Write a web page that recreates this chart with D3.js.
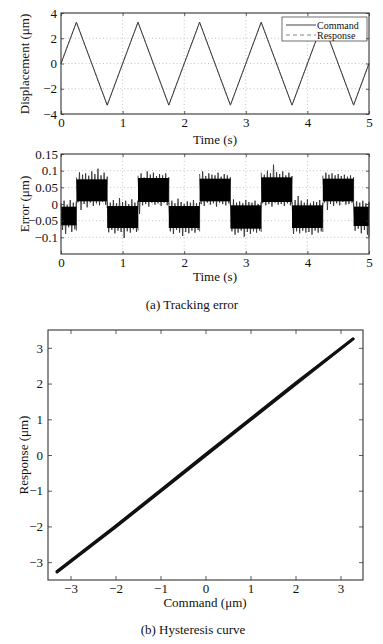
<!DOCTYPE html>
<html>
<head>
  <title>Tracking error and hysteresis</title>
  <script src="https://d3js.org/d3.v7.min.js"></script>
  <style>
    body { margin: 0; background: #fff; }
    text { font-family: "Liberation Serif", "Times New Roman", serif; fill: #111; }
  </style>
</head>
<body>
  <div id="chart"></div>
  <script>
// --- data ---
// triangle command / response vertices (time in s, displacement in um)
const cmdTime = [0, 0.25, 0.75, 1.25, 1.75, 2.25, 2.75, 3.25, 3.75, 4.25, 4.75, 5];
const cmdValue = [0, 3.27, -3.3, 3.27, -3.3, 3.27, -3.3, 3.27, -3.3, 3.27, -3.3, 0];
const respValue = [0, 3.25, -3.28, 3.25, -3.28, 3.25, -3.28, 3.25, -3.28, 3.25, -3.28, 0];

// tracking error, one block per half period: spike tips + dense core
const errSegStart = [0, 0.25, 0.75, 1.25, 1.75, 2.25, 2.75, 3.25, 3.75, 4.25, 4.75];
const errSegEnd = [0.25, 0.75, 1.25, 1.75, 2.25, 2.75, 3.25, 3.75, 4.25, 4.75, 5];
const errCoreTop = [-0.008, 0.074, -0.006, 0.078, -0.006, 0.076, -0.004, 0.08, -0.004, 0.076, -0.008];
const errCoreBot = [-0.064, 0.008, -0.072, 0.006, -0.072, 0.008, -0.074, 0.006, -0.072, 0.008, -0.066];
const errUpper = [
  [0.002, 0.010, -0.002, 0.012, 0.004, 0.008],
  [0.080, 0.095, 0.088, 0.092, 0.085, 0.098, 0.090, 0.106, 0.086, 0.094, 0.082],
  [0.008, 0.004, 0.012, 0.002, 0.018, 0.006, 0.010, 0.000, 0.014, 0.004, 0.010],
  [0.085, 0.092, 0.080, 0.098, 0.088, 0.094, 0.084, 0.090, 0.086, 0.092, 0.080],
  [0.004, 0.010, 0.002, 0.016, 0.006, 0.000, 0.008, 0.004, 0.012, 0.002, 0.006],
  [0.090, 0.098, 0.084, 0.092, 0.088, 0.086, 0.094, 0.082, 0.090, 0.086, 0.080],
  [0.010, 0.014, 0.004, 0.008, 0.002, 0.012, 0.006, 0.004, 0.010, 0.000, 0.006],
  [0.094, 0.088, 0.100, 0.092, 0.118, 0.096, 0.090, 0.098, 0.086, 0.094, 0.084],
  [0.006, 0.012, 0.024, 0.010, 0.004, 0.014, 0.002, 0.008, 0.006, 0.012, 0.004],
  [0.085, 0.094, 0.088, 0.092, 0.086, 0.090, 0.084, 0.088, 0.082, 0.086, 0.080],
  [0.002, 0.008, 0.004, 0.010, 0.002, 0.006]
];
const errLower = [
  [-0.078, -0.090, -0.070, -0.084, -0.076, -0.080],
  [0.005, -0.018, 0.000, -0.010, 0.004, -0.006, 0.002, -0.004, 0.006, -0.002, -0.012],
  [-0.085, -0.078, -0.088, -0.080, -0.084, -0.102, -0.082, -0.086, -0.076, -0.084, -0.080],
  [-0.030, -0.004, 0.000, -0.008, 0.004, -0.002, 0.002, -0.006, 0.004, -0.004, 0.000],
  [-0.082, -0.090, -0.078, -0.086, -0.096, -0.084, -0.088, -0.080, -0.086, -0.078, -0.082],
  [0.000, -0.006, 0.004, -0.002, 0.002, -0.008, 0.004, 0.000, -0.004, 0.002, -0.006],
  [-0.082, -0.092, -0.086, -0.080, -0.098, -0.084, -0.090, -0.082, -0.086, -0.080, -0.084],
  [0.002, -0.004, 0.000, -0.008, 0.004, -0.002, 0.000, -0.006, 0.002, -0.004, 0.000],
  [-0.090, -0.082, -0.088, -0.080, -0.086, -0.084, -0.092, -0.080, -0.086, -0.082, -0.084],
  [0.004, -0.018, 0.000, -0.006, 0.002, -0.004, 0.006, -0.002, 0.000, 0.004, -0.008],
  [-0.080, -0.074, -0.088, -0.078, -0.092, -0.100]
];

// hysteresis loop (command vs response, um)
const hystCmdUp = [-3.3, -2, -1, 0, 1, 2, 3.28];
const hystRespUp = [-3.28, -2.02, -1.02, -0.02, 0.98, 1.98, 3.25];
const hystCmdDown = [3.28, 2, 1, 0, -1, -2, -3.3];
const hystRespDown = [3.25, 2.01, 1.01, 0.02, -0.99, -1.99, -3.26];

// ticks
const timeTicks = [0, 1, 2, 3, 4, 5];
const dispTicks = [-4, -2, 0, 2, 4];
const errTicks = [0.15, 0.1, 0.05, 0, -0.05, -0.1];
const errTickLabels = ["0.15", "0.1", "0.05", "0", "\u22120.05", "\u22120.1"];
const hystTicks = [-3, -2, -1, 0, 1, 2, 3];

const width = 383, height = 644;
const svg = d3.select("#chart").append("svg")
  .attr("width", width)
  .attr("height", height);

const fmt = d => d < 0 ? "\u2212" + Math.abs(d) : String(d);

// dotted grid inside the plot box
function drawGrid(x, y, xTicks, yTicks) {
  const [x0, x1] = x.range();
  const [y0, y1] = y.range(); // y0 bottom, y1 top
  const g = svg.append("g");
  g.selectAll(".gx").data(xTicks.filter(t => x(t) > x0 + 1 && x(t) < x1 - 1)).enter()
    .append("line")
    .attr("x1", d => x(d)).attr("x2", d => x(d))
    .attr("y1", y1).attr("y2", y0)
    .attr("stroke", "#b5b5b5").attr("stroke-width", 0.8)
    .attr("stroke-dasharray", "1,2.5");
  g.selectAll(".gy").data(yTicks.filter(t => y(t) < y0 - 1 && y(t) > y1 + 1)).enter()
    .append("line")
    .attr("y1", d => y(d)).attr("y2", d => y(d))
    .attr("x1", x0).attr("x2", x1)
    .attr("stroke", "#b5b5b5").attr("stroke-width", 0.8)
    .attr("stroke-dasharray", "1,2.5");
}

// box with inward ticks on all four sides
function drawAxes(x, y, xTicks, yTicks, opts) {
  const [x0, x1] = x.range();
  const [y0, y1] = y.range();
  const ts = opts.tick;
  const bottom = svg.append("g").attr("transform", `translate(0,${y0})`)
    .call(d3.axisBottom(x).tickValues(xTicks).tickSize(-ts).tickPadding(opts.xPad).tickFormat(opts.xFmt || fmt));
  const top = svg.append("g").attr("transform", `translate(0,${y1})`)
    .call(d3.axisTop(x).tickValues(xTicks).tickSize(-ts).tickFormat(""));
  const left = svg.append("g").attr("transform", `translate(${x0},0)`)
    .call(d3.axisLeft(y).tickValues(yTicks).tickSize(-ts).tickPadding(opts.yPad).tickFormat(opts.yFmt || fmt));
  const right = svg.append("g").attr("transform", `translate(${x1},0)`)
    .call(d3.axisRight(y).tickValues(yTicks).tickSize(-ts).tickFormat(""));
  [bottom, top, left, right].forEach(a => {
    a.attr("font-family", null);
    a.selectAll(".domain").remove();
    a.selectAll("line").attr("stroke", "#333").attr("stroke-width", 0.8);
    a.selectAll("text").style("font-family", "'Liberation Serif', serif")
      .style("font-size", "13px").attr("fill", "#111");
  });
  svg.append("rect")
    .attr("x", x0).attr("y", y1)
    .attr("width", x1 - x0).attr("height", y0 - y1)
    .attr("fill", "none").attr("stroke", "#333").attr("stroke-width", 1.1);
}

// --- (a) top: displacement ---
const xT = d3.scaleLinear().domain([0, 5]).range([61, 369]);
const yD = d3.scaleLinear().domain([-4, 4]).range([114, 13]);
drawGrid(xT, yD, timeTicks, dispTicks);

const cmdLine = d3.line().x((d, i) => xT(cmdTime[i])).y(d => yD(d));
svg.append("path").datum(cmdValue)
  .attr("d", cmdLine).attr("fill", "none")
  .attr("stroke", "#111").attr("stroke-width", 0.9);
svg.append("path").datum(respValue)
  .attr("d", cmdLine).attr("fill", "none")
  .attr("stroke", "#666").attr("stroke-width", 0.7)
  .attr("stroke-dasharray", "4,3");

// legend
const lg = svg.append("g");
lg.append("rect").attr("x", 282).attr("y", 17).attr("width", 85).attr("height", 24)
  .attr("fill", "#fff").attr("stroke", "#333").attr("stroke-width", 0.7);
lg.append("line").attr("x1", 286).attr("x2", 316).attr("y1", 25).attr("y2", 25)
  .attr("stroke", "#111").attr("stroke-width", 0.8);
lg.append("line").attr("x1", 286).attr("x2", 316).attr("y1", 35).attr("y2", 35)
  .attr("stroke", "#666").attr("stroke-width", 0.8).attr("stroke-dasharray", "4,3");
lg.append("text").attr("x", 317).attr("y", 28.5).style("font-size", "10px").text("Command");
lg.append("text").attr("x", 317).attr("y", 38.5).style("font-size", "10px").text("Response");

drawAxes(xT, yD, timeTicks, dispTicks, { tick: 3, xPad: 4, yPad: 4 });

svg.append("text").attr("x", 215).attr("y", 144).attr("text-anchor", "middle")
  .style("font-size", "13px").text("Time (s)");
svg.append("text").attr("transform", "translate(29,64) rotate(-90)")
  .attr("text-anchor", "middle").style("font-size", "13px").text("Displacement (\u03bcm)");

// --- (a) bottom: error ---
const yE = d3.scaleLinear().domain([-0.15, 0.15]).range([254, 154]);
drawGrid(xT, yE, timeTicks, errTicks);

errSegStart.forEach((s, k) => {
  const e = errSegEnd[k];
  const up = errUpper[k], lo = errLower[k];
  const n = up.length - 1;
  const step = (e - s) / n;
  // noisy trace swinging between the read spike tips, dense core over it
  const pts = [];
  up.forEach((u, i) => {
    pts.push([s + step * i, u]);
    pts.push([s + step * Math.min(i + 0.5, n), lo[i]]);
  });
  svg.append("path").datum(pts)
    .attr("d", d3.line().x(d => xT(d[0])).y(d => yE(d[1])))
    .attr("fill", "none").attr("stroke", "#2a2a2a").attr("stroke-width", 0.8);
  svg.append("rect")
    .attr("x", xT(s)).attr("width", xT(e) - xT(s))
    .attr("y", yE(errCoreTop[k])).attr("height", yE(errCoreBot[k]) - yE(errCoreTop[k]))
    .attr("fill", "#000");
});

drawAxes(xT, yE, timeTicks, errTicks, {
  tick: 3, xPad: 4, yPad: 3,
  yFmt: d => errTickLabels[errTicks.indexOf(d)]
});

svg.append("text").attr("x", 215).attr("y", 281).attr("text-anchor", "middle")
  .style("font-size", "13px").text("Time (s)");
svg.append("text").attr("transform", "translate(29,204) rotate(-90)")
  .attr("text-anchor", "middle").style("font-size", "13px").text("Error (\u03bcm)");
svg.append("text").attr("x", 192).attr("y", 309).attr("text-anchor", "middle")
  .style("font-size", "13px").text("(a) Tracking error");

// --- (b) hysteresis ---
const xH = d3.scaleLinear().domain([-3.5, 3.5]).range([48, 363]);
const yH = d3.scaleLinear().domain([-3.5, 3.5]).range([580, 330]);

const upLine = d3.line().x((d, i) => xH(hystCmdUp[i])).y(d => yH(d));
const downLine = d3.line().x((d, i) => xH(hystCmdDown[i])).y(d => yH(d));
svg.append("path").datum(hystRespUp).attr("d", upLine)
  .attr("fill", "none").attr("stroke", "#111").attr("stroke-width", 2.8)
  .attr("stroke-linecap", "round");
svg.append("path").datum(hystRespDown).attr("d", downLine)
  .attr("fill", "none").attr("stroke", "#111").attr("stroke-width", 2.8)
  .attr("stroke-linecap", "round");

drawAxes(xH, yH, hystTicks, hystTicks, { tick: 4, xPad: 4, yPad: 5 });

svg.append("text").attr("x", 205).attr("y", 607).attr("text-anchor", "middle")
  .style("font-size", "13px").text("Command (\u03bcm)");
svg.append("text").attr("transform", "translate(28,455) rotate(-90)")
  .attr("text-anchor", "middle").style("font-size", "13px").text("Response (\u03bcm)");
svg.append("text").attr("x", 193).attr("y", 634).attr("text-anchor", "middle")
  .style("font-size", "13px").text("(b) Hysteresis curve");
  </script>
</body>
</html>
